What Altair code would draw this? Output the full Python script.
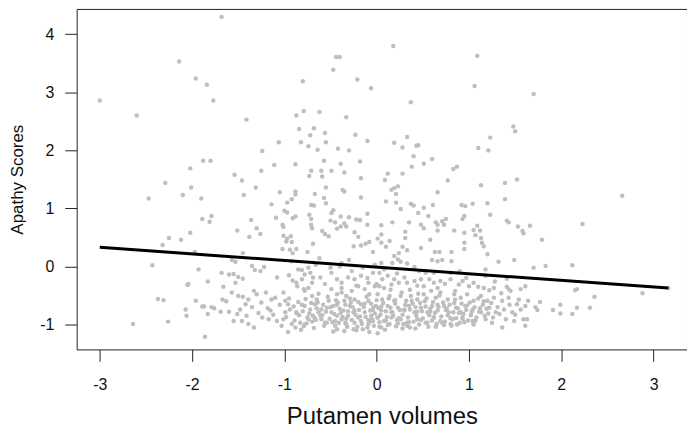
import altair as alt
import pandas as pd

# ---- scatter data, grouped by region ----
x_top_left = [-1.68, -2.14, -1.96, -1.84, -1.77, -3.00, -2.60, -1.88, -1.80, -2.02]
y_top_left = [4.30, 3.53, 3.24, 3.13, 2.86, 2.86, 2.60, 1.82, 1.82, 1.69]

x_top_mid = [-0.44, -0.40, -0.47, -0.80, -0.21, -0.06, -1.41, -0.87, -0.79, -0.62, -0.33, -0.84,
             -0.68, -0.72, -0.56, -0.23, -0.10, -1.06, -0.82, -0.74, -0.55, -0.64, -0.42, -0.30,
             -1.24, -0.57, -0.18, -1.11, -0.88, -0.39, -1.25, -0.71, -0.60, -0.49, -0.35, -1.54]
y_top_mid = [3.61, 3.61, 3.39, 3.19, 3.22, 3.07, 2.53, 2.60, 2.68, 2.66, 2.57, 2.37,
             2.38, 2.26, 2.30, 2.27, 2.16, 2.14, 2.14, 2.07, 2.14, 2.01, 2.03, 2.00,
             1.99, 1.82, 1.81, 1.75, 1.76, 1.77, 1.65, 1.65, 1.65, 1.65, 1.62, 1.58]

x_top_right = [0.18, 1.09, 1.06, 0.37, 1.48, 1.50, 1.23, 0.33, 0.19, 0.28, 0.43, 0.45, 1.10, 1.21,
               0.40, 0.60, 0.51, 0.38, 0.83, 0.87, 0.12, 0.28]
y_top_right = [3.80, 3.63, 3.11, 2.83, 2.41, 2.33, 2.22, 2.23, 2.13, 2.05, 2.08, 2.09, 2.04, 2.00,
               1.90, 1.85, 1.77, 1.72, 1.68, 1.72, 1.60, 1.60]

x_far_right = [1.70, 2.66, 1.66, 2.23, 1.79, 1.70, 1.83, 2.12, 3.16, 2.17, 2.15, 2.88, 2.36, 1.64,
               1.77, 1.72, 1.74, 1.99, 1.91, 2.17, 2.31, 1.99, 2.12, 1.63]
y_far_right = [2.97, 1.22, 0.70, 0.73, 0.46, -0.02, 0.01, 0.02, -0.37, -0.39, -0.41, -0.46, -0.52, -0.59,
               -0.61, -0.70, -0.75, -0.66, -0.75, -0.71, -0.71, -0.81, -0.82, -0.91]

x_low_left = [-2.29, -2.01, -2.47, -2.10, -1.90, -1.89, -1.79, -1.81, -2.02, -2.25, -2.12, -2.32,
              -1.97, -2.43, -1.93, -1.83, -2.04, -2.05, -1.66, -1.67, -2.37, -2.31, -1.96, -1.89,
              -1.87, -1.79, -1.76, -1.69, -2.07, -2.06, -1.83, -2.26, -2.64, -1.86]
y_low_left = [1.44, 1.36, 1.17, 1.23, 1.17, 0.82, 0.87, 0.77, 0.58, 0.49, 0.46, 0.37,
              0.25, 0.02, -0.05, -0.26, -0.30, -0.32, -0.35, -0.57, -0.56, -0.58, -0.59, -0.69,
              -0.69, -0.70, -0.72, -0.78, -0.74, -0.85, -0.82, -0.95, -0.99, -1.21]

x_mid_up_neg = [-1.46, -0.73, -0.59, -0.17, -1.31, -1.44, -1.05, -0.88, -0.88, -0.92, -0.97, -1.14,
                -0.67, -0.55, -0.37, -0.35, -0.57, -0.55, -0.71, -0.68, -0.17, -1.00, -0.97, -1.09,
                -0.91, -0.88, -0.73, -0.71, -0.47, -0.49, -0.39, -0.30, -0.10, -1.36, -0.50, -0.45,
                -0.35, -0.33, -0.22, -0.18, -1.02, -1.01, -0.71, -0.70, -0.10, -1.51, -1.30, -1.26,
                -1.38, -0.59, -0.56, -0.52, -0.43, -0.24, -0.20, -1.01, -0.97, -0.93, -0.98, -0.92,
                -0.69, -0.17, -0.12, -0.08, -0.25, -1.02, -0.94, -0.87, -0.91, -0.75, -1.45, -0.04,
                -0.62, -0.92, -0.66, -0.38, -0.30, -0.15, -0.39]
y_mid_up_neg = [1.48, 1.56, 1.55, 1.52, 1.36, 1.23, 1.28, 1.29, 1.24, 1.16, 1.10, 1.07,
                1.25, 1.36, 1.32, 1.29, 1.18, 1.09, 1.06, 1.05, 1.19, 0.96, 0.93, 0.84,
                0.83, 0.86, 0.89, 0.82, 0.97, 0.92, 0.86, 0.85, 0.91, 0.80, 0.79, 0.76,
                0.74, 0.69, 0.81, 0.80, 0.72, 0.68, 0.72, 0.66, 0.72, 0.62, 0.66, 0.56,
                0.51, 0.61, 0.56, 0.52, 0.65, 0.59, 0.51, 0.53, 0.48, 0.52, 0.43, 0.42,
                0.39, 0.36, 0.39, 0.42, 0.35, 0.30, 0.29, 0.30, 0.23, 0.25, 0.23, 0.25,
                0.14, 0.09, 0.03, 0.06, 0.11, -0.02, 0.69]

x_mid_low_neg = [-1.57, -1.53, -1.35, -1.32, -1.26, -1.22, -1.60, -1.55, -1.50, -1.45, -1.53, -1.08,
                 -0.81, -0.74, -0.72, -0.78, -0.91, -0.87, -0.81, -0.86, -0.79, -0.70, -0.69, -0.61,
                 -0.49, -0.43, -0.38, -0.31, -0.24, -0.17, -0.09, -0.04, -1.57, -1.50, -1.33, -1.30,
                 -1.39, -1.42, -1.14, -1.10, -1.01, -0.99, -0.96, -1.48, -1.51, -1.41, -1.55, -1.46,
                 -1.39, -1.33, -1.24, -1.17, -1.08, -1.01, -0.99, -0.94, -0.92, -0.96, -0.88, -0.83,
                 -0.79, -0.74, -0.87, -0.78, -0.72, -0.67, -0.63, -0.60, -0.69, -0.60, -0.54, -0.78,
                 -0.74, -0.70, -0.65, -0.49, -0.43, -0.38, -0.33, -0.27, -0.20, -0.13, -0.08, -0.02,
                 -0.52, -0.47, -0.42, -0.35, -0.29, -0.24, -0.17, -0.09, -0.04, -0.49, -0.43, -0.36,
                 -0.31, -0.25, -0.20, -0.13, -0.06, -0.45, -0.38, -0.33, -0.24, -0.17, -0.09, -0.04,
                 -0.43, -0.35, -0.25, -0.15, -0.08, -1.68]
y_mid_low_neg = [0.11, 0.08, 0.01, -0.06, -0.08, -0.01, -0.14, -0.13, -0.18, -0.21, -0.28, -0.19,
                 -0.06, -0.02, -0.11, -0.14, -0.24, -0.28, -0.22, -0.34, -0.39, -0.28, -0.19, -0.19,
                 -0.11, -0.22, -0.28, -0.19, -0.22, -0.16, -0.28, -0.11, -0.45, -0.51, -0.42, -0.48,
                 -0.57, -0.65, -0.57, -0.54, -0.45, -0.59, -0.65, -0.74, -0.82, -0.85, -0.94, -0.94,
                 -0.99, -1.05, -0.88, -0.91, -0.94, -0.91, -0.79, -0.74, -0.99, -1.13, -1.05, -0.97,
                 -1.03, -0.91, -0.79, -0.68, -0.74, -0.65, -0.79, -0.74, -0.85, -0.91, -0.97, -0.42,
                 -0.37, -0.51, -0.57, -0.39, -0.48, -0.37, -0.51, -0.42, -0.34, -0.39, -0.48, -0.34,
                 -0.59, -0.68, -0.62, -0.59, -0.68, -0.57, -0.65, -0.59, -0.71, -0.79, -0.85, -0.76,
                 -0.85, -0.79, -0.88, -0.79, -0.85, -0.94, -0.91, -0.99, -0.97, -0.94, -0.99, -0.94,
                 -1.08, -1.11, -1.08, -1.08, -1.13, -0.11]

x_mid_up_pos = [0.09, 0.19, 0.23, 0.21, 0.16, 0.77, 1.13, 1.39, 1.52, 0.66, 0.10, 0.21, 0.37, 0.40,
                0.61, 0.92, 0.96, 1.04, 1.20, 1.39, 0.26, 0.51, 0.45, 1.23, 0.56, 0.95, 0.93, 0.75,
                0.71, 0.73, 0.64, 0.66, 0.35, 0.48, 0.51, 0.17, 0.05, 1.41, 1.43, 1.53, 1.58, 1.59,
                1.09, 1.12, 1.05, 1.07, 1.13, 1.14, 1.16, 0.95, 0.95, 0.95, 0.84, 0.66, 0.31, 0.31,
                0.05, 0.01, 0.05, 0.10, 0.14, 0.28, 0.33, 0.24, 0.48, 0.58, 0.63, 0.68, 0.81, 0.60,
                0.66, 0.71, 0.81, 1.20, 1.32, 1.49, 0.19, 0.23, 0.17, 0.26, 0.33, 0.05, -0.02, 0.41,
                0.46, 0.53, 0.62, 0.80, 0.90, 1.18, 1.41, 1.18]
y_mid_up_pos = [1.49, 1.35, 1.38, 1.25, 1.32, 1.48, 1.40, 1.44, 1.50, 1.28, 1.12, 1.10, 1.08, 1.05,
                1.06, 1.06, 1.04, 1.08, 1.09, 1.16, 0.99, 1.01, 0.92, 0.89, 0.87, 0.87, 0.82, 0.82,
                0.78, 0.72, 0.76, 0.72, 0.76, 0.72, 0.66, 0.76, 0.71, 0.79, 0.76, 0.69, 0.61, 0.57,
                0.70, 0.62, 0.63, 0.54, 0.49, 0.41, 0.35, 0.58, 0.41, 0.30, 0.62, 0.62, 0.60, 0.49,
                0.55, 0.48, 0.41, 0.34, 0.44, 0.34, 0.28, 0.23, 0.32, 0.46, 0.25, 0.25, 0.25, 0.11,
                0.09, 0.11, 0.09, 0.21, 0.08, 0.11, 0.18, 0.12, 0.06, 0.08, 0.05, 0.06, 0.03, -0.01,
                -0.08, -0.11, -0.11, -0.11, -0.08, -0.05, -0.21, -0.16]

x_mid_low_pos = [0.03, 0.06, 0.12, 0.03, 0.08, 0.16, 0.19, 0.24, 0.30, 0.33, 0.41, 0.48, 0.51, 0.62,
                 0.69, 0.80, 0.89, 0.93, 1.00, 1.05, 1.16, 1.22, 1.27, 1.41, 1.45, 1.56, 1.61,
                 0.01, 0.06, 0.14, 0.19, 0.26, 0.32, 0.37, 0.44, 0.51, 0.59, 0.64, 0.69, 0.77, 0.84,
                 0.91, 0.98, 1.05, 1.13, 1.20, 1.27, 1.36, 1.43, 1.43, 1.52, 1.61,
                 -0.01, 0.05, 0.12, 0.17, 0.23, 0.30, 0.35, 0.41, 0.48, 0.55, 0.60, 0.66, 0.73, 0.78,
                 0.86, 0.91, 0.96, 1.04, 1.13, 1.22, 1.29, 1.38, 1.47, 1.56,
                 0.01, 0.08, 0.16, 0.26, 0.33, 0.44, 0.53, 0.62, 0.69, 0.82, 0.93, 1.04, 1.18, 1.25,
                 1.40, 1.49, 1.59, 0.05, 0.28, 0.80, 1.05, 1.36, 1.61, 0.01]
y_mid_low_pos = [-0.11, -0.22, -0.16, -0.34, -0.37, -0.31, -0.22, -0.28, -0.19, -0.28, -0.25, -0.22, -0.34, -0.28,
                 -0.25, -0.22, -0.31, -0.25, -0.34, -0.28, -0.37, -0.41, -0.37, -0.35, -0.42, -0.39, -0.34,
                 -0.48, -0.57, -0.51, -0.59, -0.51, -0.59, -0.51, -0.57, -0.48, -0.42, -0.54, -0.45, -0.57, -0.48,
                 -0.54, -0.48, -0.59, -0.51, -0.59, -0.54, -0.59, -0.39, -0.54, -0.65, -0.68,
                 -0.68, -0.76, -0.68, -0.79, -0.71, -0.76, -0.68, -0.79, -0.71, -0.79, -0.68, -0.76, -0.68, -0.79,
                 -0.71, -0.79, -0.68, -0.74, -0.79, -0.71, -0.79, -0.74, -0.79, -0.74,
                 -0.88, -0.94, -0.88, -0.91, -0.97, -0.91, -0.97, -0.88, -0.94, -0.91, -0.88, -0.94, -0.91, -0.97,
                 -0.91, -0.94, -0.91, -1.05, -1.07, -0.99, -0.99, -1.05, -1.02, -1.15]

# dense lower band (overlapping points that fill the mass below the line)
x_dense = [-1.18, -1.12, -1.05, -1.03, -0.98, -0.95, -0.90, -0.89, -0.85, -0.84, -0.82, -0.80,
           -0.77, -0.76, -0.73, -0.71, -0.68, -0.66, -0.65, -0.63, -0.61, -0.58, -0.57, -0.55,
           -0.53, -0.51, -0.50, -0.47, -0.46, -0.44, -0.41, -0.40, -0.38, -0.37, -0.34, -0.32,
           -0.31, -0.29, -0.27, -0.26, -0.23, -0.22, -0.20, -0.19, -0.16, -0.14, -0.12, -0.11,
           -0.10, -0.07, -0.06, -0.05, -0.03, -0.02, 0.00, 0.02, 0.03, 0.04, 0.07, 0.09,
           0.10, 0.11, 0.13, 0.14, 0.15, 0.18, 0.20, 0.21, 0.22, 0.25, 0.27, 0.28,
           0.29, 0.31, 0.34, 0.36, 0.36, 0.38, 0.40, 0.42, 0.43, 0.45, 0.46, 0.47,
           0.49, 0.50, 0.53, 0.54, 0.56, 0.57, 0.58, 0.60, 0.61, 0.63, 0.65, 0.67,
           0.68, 0.70, 0.72, 0.74, 0.75, 0.77, 0.79, 0.81, 0.83, 0.85, 0.86, 0.88,
           0.90, 0.92, 0.94, 0.97, 0.99, 1.01, 1.02, 1.06, 1.08, 1.10, 1.11, 1.15,
           1.17, 1.19, 1.24, 1.26, 1.31, 1.33, 1.35, 1.44, 1.50, 1.54,
           -1.25, -1.20, -1.15, -1.28, -1.35, -1.45, -1.60, -1.63,
           -0.95, -0.85, -0.56, -0.50, -0.40, -0.27, -0.22, -0.10, 0.00, 0.08, 0.15, 0.22,
           0.36, 0.44, 0.57, 0.66, 0.74, 0.85, 0.97, 1.10, 1.28]
y_dense = [-0.72, -0.83, -0.66, -1.02, -0.87, -0.55, -0.69, -0.93, -0.61, -0.84, -1.09, -0.77,
           -0.56, -0.98, -0.81, -0.63, -1.06, -0.92, -0.72, -0.47, -0.85, -0.66, -1.02, -0.78,
           -0.52, -0.90, -0.70, -1.12, -0.82, -0.58, -0.97, -0.73, -0.45, -0.87, -0.66, -1.04,
           -0.77, -0.55, -0.92, -0.70, -0.83, -1.10, -0.61, -0.75, -0.99, -0.70, -0.87, -0.52,
           -1.05, -0.76, -0.64, -0.91, -1.02, -0.81, -0.58, -0.72, -0.96, -0.83, -0.63, -1.09,
           -0.77, -0.87, -0.55, -0.99, -0.71, -0.85, -0.64, -1.03, -0.92, -0.75, -0.45, -0.83,
           -0.99, -0.66, -0.88, -0.74, -1.05, -0.59, -0.95, -0.70, -0.85, -0.47, -1.00, -0.63,
           -0.77, -0.89, -0.69, -0.55, -1.04, -0.84, -0.73, -0.93, -0.61, -0.80, -0.99, -0.70,
           -0.50, -0.86, -0.62, -0.95, -0.75, -0.84, -0.66, -1.02, -0.79, -0.57, -0.89, -0.72,
           -0.97, -0.64, -0.82, -0.75, -0.93, -0.62, -0.84, -0.70, -0.88, -0.55, -0.78, -0.66,
           -0.85, -0.73, -0.63, -0.88, -0.70, -0.82, -0.46, -0.66, -0.83, -0.57,
           -0.62, -0.45, -0.76, -0.80, -0.70, -0.52, -0.78, -0.60,
           -0.15, -0.05, -0.30, -0.02, 0.00, -0.08, -0.33, -0.20, -0.30, -0.05, -0.40, -0.12,
           -0.40, -0.33, -0.22, -0.37, -0.30, -0.42, -0.20, -0.35, -0.26]

# core of the mass (very crowded area between x = -0.9 and 1.2)
x_core = [-0.87, -0.81, -0.75, -0.70, -0.64, -0.59, -0.54, -0.48, -0.43, -0.39, -0.33, -0.28,
          -0.24, -0.18, -0.13, -0.08, -0.04, 0.01, 0.05, 0.10, 0.16, 0.20, 0.24, 0.30,
          0.35, 0.39, 0.44, 0.48, 0.52, 0.58, 0.62, 0.66, 0.71, 0.76, 0.80, 0.84,
          0.89, 0.93, 0.98, 1.03, 1.07, 1.12, 1.16, 1.21,
          -0.78, -0.67, -0.56, -0.45, -0.34, -0.21, -0.09, 0.03, 0.12, 0.23, 0.33, 0.42,
          0.55, 0.64, 0.73, 0.87, 0.95, 1.05]
y_core = [-0.80, -0.66, -0.88, -0.95, -0.62, -0.84, -0.71, -0.96, -0.66, -0.80, -0.90, -0.62,
          -0.76, -0.86, -0.64, -0.96, -0.75, -0.88, -0.69, -0.93, -0.79, -0.58, -0.89, -0.74,
          -0.96, -0.64, -0.78, -0.92, -0.60, -0.77, -0.88, -0.66, -0.97, -0.72, -0.89, -0.63,
          -0.80, -0.90, -0.67, -0.78, -0.93, -0.72, -0.60, -0.81,
          -1.00, -0.89, -0.97, -1.02, -0.97, -1.04, -0.92, -1.04, -1.01, -0.98, -1.02, -1.07,
          -0.97, -1.04, -1.01, -1.00, -0.96, -1.00]

# ---- fitted regression line (end points) ----
line_x = [-3.00, 3.16]
line_y = [0.33, -0.37]

xs = (x_top_left + x_top_mid + x_top_right + x_far_right + x_low_left +
      x_mid_up_neg + x_mid_low_neg + x_mid_up_pos + x_mid_low_pos + x_dense + x_core)
ys = (y_top_left + y_top_mid + y_top_right + y_far_right + y_low_left +
      y_mid_up_neg + y_mid_low_neg + y_mid_up_pos + y_mid_low_pos + y_dense + y_core)

df = pd.DataFrame({"x": xs, "y": ys})
line_df = pd.DataFrame({"x": line_x, "y": line_y})

FONT = "Liberation Sans"
xscale = alt.Scale(domain=[-3.25, 3.362], nice=False, zero=False)
yscale = alt.Scale(domain=[-1.429, 4.437], nice=False, zero=False)

x_axis = alt.Axis(title="Putamen volumes", values=[-3, -2, -1, 0, 1, 2, 3],
                  labelExpr="'' + datum.value",
                  grid=False, domain=False, tickSize=12, tickColor="#222", tickWidth=1,
                  labelFontSize=16, labelPadding=15, labelColor="#111", labelFont=FONT,
                  titleFontSize=24, titleFontWeight="normal", titleFont=FONT,
                  titleColor="#111", titlePadding=12)
y_axis = alt.Axis(title="Apathy Scores", values=[-1, 0, 1, 2, 3, 4],
                  labelExpr="'' + datum.value",
                  grid=False, domain=False, tickSize=12, tickColor="#222", tickWidth=1,
                  labelFontSize=16, labelPadding=11, labelColor="#111", labelFont=FONT,
                  labelAngle=0, titleFontSize=17, titleFontWeight="normal", titleFont=FONT,
                  titleColor="#111", titlePadding=13)

points = alt.Chart(df).mark_circle(size=20, color="#BEBEBE", opacity=1).encode(
    x=alt.X("x:Q", scale=xscale, axis=x_axis),
    y=alt.Y("y:Q", scale=yscale, axis=y_axis),
)

line = alt.Chart(line_df).mark_line(color="black", strokeWidth=3).encode(
    x=alt.X("x:Q", scale=xscale),
    y=alt.Y("y:Q", scale=yscale),
)

chart = (points + line).properties(width=613, height=342, padding=0).configure_view(
    stroke="#222", strokeWidth=1
)

chart.save("out.html", embed_options={"renderer": "svg", "actions": False})
